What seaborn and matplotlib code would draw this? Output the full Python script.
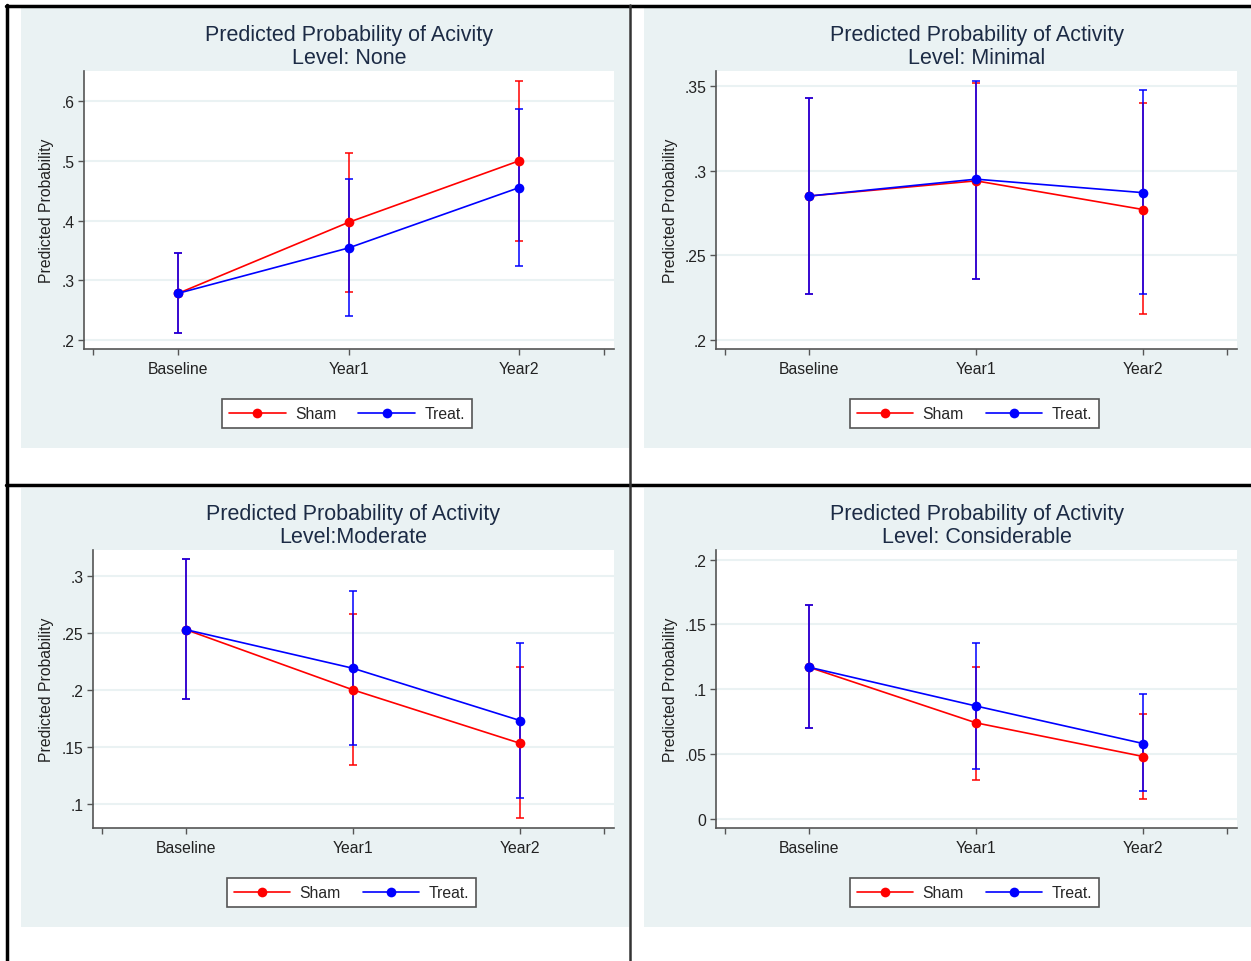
import numpy as np
import pandas as pd
import matplotlib
matplotlib.use("Agg")
import matplotlib.pyplot as plt
import seaborn as sns
from matplotlib.lines import Line2D
from matplotlib.patches import Rectangle

# ── Data ────────────────────────────────────────────────────────────────────

PERIODS = ["Baseline", "Year1", "Year2"]

none_sham = [0.278, 0.397, 0.500]
none_sham_lo = [0.211, 0.280, 0.366]
none_sham_hi = [0.346, 0.513, 0.635]
none_treat = [0.278, 0.354, 0.455]
none_treat_lo = [0.211, 0.240, 0.324]
none_treat_hi = [0.346, 0.469, 0.587]

minimal_sham = [0.285, 0.294, 0.277]
minimal_sham_lo = [0.227, 0.236, 0.215]
minimal_sham_hi = [0.343, 0.352, 0.340]
minimal_treat = [0.285, 0.295, 0.287]
minimal_treat_lo = [0.227, 0.236, 0.227]
minimal_treat_hi = [0.343, 0.353, 0.348]

moderate_sham = [0.253, 0.200, 0.153]
moderate_sham_lo = [0.192, 0.134, 0.087]
moderate_sham_hi = [0.315, 0.267, 0.220]
moderate_treat = [0.253, 0.219, 0.173]
moderate_treat_lo = [0.192, 0.152, 0.105]
moderate_treat_hi = [0.315, 0.287, 0.241]

consid_sham = [0.117, 0.074, 0.048]
consid_sham_lo = [0.070, 0.030, 0.015]
consid_sham_hi = [0.165, 0.117, 0.081]
consid_treat = [0.117, 0.087, 0.058]
consid_treat_lo = [0.070, 0.038, 0.021]
consid_treat_hi = [0.165, 0.136, 0.096]

TITLES = [
    "Predicted Probability of Acivity\nLevel: None",
    "Predicted Probability of Activity\nLevel: Minimal",
    "Predicted Probability of Activity\nLevel:Moderate",
    "Predicted Probability of Activity\nLevel: Considerable",
]
YTICKS = [
    [0.2, 0.3, 0.4, 0.5, 0.6],
    [0.2, 0.25, 0.3, 0.35],
    [0.1, 0.15, 0.2, 0.25, 0.3],
    [0.0, 0.05, 0.1, 0.15, 0.2],
]
YTICKLABELS = [
    [".2", ".3", ".4", ".5", ".6"],
    [".2", ".25", ".3", ".35"],
    [".1", ".15", ".2", ".25", ".3"],
    ["0", ".05", ".1", ".15", ".2"],
]
YLIMS = [(0.1844, 0.651), (0.1945, 0.359), (0.0786, 0.323), (-0.0072, 0.2075)]

PANELS = [
    (none_sham, none_sham_lo, none_sham_hi, none_treat, none_treat_lo, none_treat_hi),
    (minimal_sham, minimal_sham_lo, minimal_sham_hi, minimal_treat, minimal_treat_lo, minimal_treat_hi),
    (moderate_sham, moderate_sham_lo, moderate_sham_hi, moderate_treat, moderate_treat_lo, moderate_treat_hi),
    (consid_sham, consid_sham_lo, consid_sham_hi, consid_treat, consid_treat_lo, consid_treat_hi),
]

# ── Layout (pixels) ─────────────────────────────────────────────────────────

W, H = 1251, 962
AXES_PX = [(84, 614, 72, 350), (716, 1237, 72, 350),
           (93, 614, 551, 829), (716, 1237, 551, 829)]
BG_PX = [(21, 629, 9, 449), (644, 1251, 9, 449),
         (21, 629, 489, 928), (644, 1251, 489, 928)]
YLABEL_X = [54, 678, 54, 678]   # right edge of the rotated label

BG = "#eaf2f3"
RED = "#ff0000"
BLUE = "#0000ff"
TITLE_C = "#1c2b45"
AXIS_C = "#555555"

sns.set_style("white")
plt.rcParams["font.family"] = ["Liberation Sans", "DejaVu Sans"]

fig = plt.figure(figsize=(W / 100, H / 100), dpi=100)
fig.patch.set_facecolor("white")


def fx(x):
    return x / W


def fy(y):
    return 1 - y / H


for l, r, t, b in BG_PX:
    fig.add_artist(Rectangle((fx(l), fy(b)), fx(r) - fx(l), fy(t) - fy(b),
                             transform=fig.transFigure, facecolor=BG,
                             edgecolor="none", zorder=-5))

xs = np.arange(1, len(PERIODS) + 1)

for i, (sham, sl, sh, treat, tl, th) in enumerate(PANELS):
    l, r, t, b = AXES_PX[i]
    ax = fig.add_axes([fx(l), fy(b), fx(r) - fx(l), fy(t) - fy(b)])
    ax.set_facecolor("white")

    sham, sl, sh = map(np.array, (sham, sl, sh))
    treat, tl, th = map(np.array, (treat, tl, th))

    ax.errorbar(xs, sham, yerr=[sham - sl, sh - sham], fmt="none",
                ecolor=RED, elinewidth=1.1, capsize=2.8, capthick=1.1, zorder=2)
    ax.errorbar(xs, treat, yerr=[treat - tl, th - treat], fmt="none",
                ecolor=BLUE, elinewidth=1.1, capsize=2.8, capthick=1.1, zorder=2)

    df = pd.DataFrame({
        "x": np.concatenate([xs, xs]),
        "p": np.concatenate([sham, treat]),
        "group": ["Sham"] * 3 + ["Treat."] * 3,
    })
    sns.lineplot(data=df, x="x", y="p", hue="group",
                 palette={"Sham": RED, "Treat.": BLUE},
                 marker="o", markersize=7, markeredgewidth=0,
                 linewidth=1.2, ax=ax, legend=False, zorder=3)

    ax.set_xlim(0.445, 3.56)
    ax.set_ylim(*YLIMS[i])
    ax.set_xticks([0.5, 1, 2, 3, 3.5])
    ax.set_xticklabels(["", *PERIODS, ""])
    ax.set_yticks(YTICKS[i])
    ax.set_yticklabels(YTICKLABELS[i])
    ax.tick_params(axis="both", direction="out", length=4, width=1,
                   color=AXIS_C, labelsize=11.3, labelcolor="#222222", pad=3,
                   left=True, bottom=True)
    ax.tick_params(axis="x", pad=5)
    ax.grid(axis="y", color=BG, linewidth=1.5)
    ax.grid(axis="x", visible=False)
    ax.set_axisbelow(True)
    for s in ("top", "right"):
        ax.spines[s].set_visible(False)
    for s in ("left", "bottom"):
        ax.spines[s].set_color(AXIS_C)
        ax.spines[s].set_linewidth(1.2)

    ax.set_xlabel("")
    ax.set_ylabel("Predicted Probability", fontsize=11.3, color="#222222")
    ax.yaxis.set_label_coords((YLABEL_X[i] - l) / (r - l), 0.5)

    cx = fx((l + r) / 2)
    fig.text(cx, fy(t - 25), TITLES[i], ha="center", va="center",
             fontsize=15.5, color=TITLE_C, linespacing=1.08)

    handles = [
        Line2D([0], [0], color=RED, lw=1.2, marker="o", markersize=7, markeredgewidth=0),
        Line2D([0], [0], color=BLUE, lw=1.2, marker="o", markersize=7, markeredgewidth=0),
    ]
    leg_top = b + 50
    leg = ax.legend(handles, ["Sham", "Treat."], ncol=2, loc="upper center",
                    bbox_to_anchor=(0.5 - 2 / (r - l), (b - leg_top) / (b - t)),
                    borderaxespad=0, fontsize=11.3, frameon=True, fancybox=False,
                    framealpha=1, edgecolor=AXIS_C, handlelength=3.6,
                    handletextpad=0.6, columnspacing=1.4, borderpad=0.45)
    leg.get_frame().set_linewidth(1.2)

# ── table borders ───────────────────────────────────────────────────────────
border = dict(transform=fig.transFigure, color="black", linewidth=2.5, zorder=10)
fig.add_artist(Line2D([fx(6), fx(W)], [fy(7), fy(7)], **border))
fig.add_artist(Line2D([fx(7), fx(7)], [fy(6), fy(H)], **border))
fig.add_artist(Line2D([fx(6), fx(W)], [fy(486), fy(486)], **border))
fig.add_artist(Line2D([fx(630), fx(630)], [fy(6), fy(H)], transform=fig.transFigure,
                      color="#333333", linewidth=1.8, zorder=10))

fig.savefig("out.png", dpi=100)
